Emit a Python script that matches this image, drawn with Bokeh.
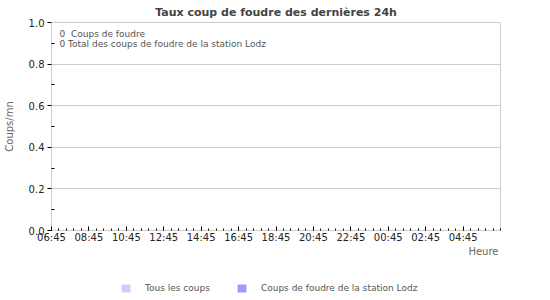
from bokeh.plotting import figure
from bokeh.layouts import column
from bokeh.models import (FixedTicker, Label, Legend, LegendItem, Range1d,
                          ColumnDataSource, Title)
from bokeh.embed import file_html
from bokeh.resources import INLINE

# ---------------- data ----------------
hour_labels = ["06:45", "08:45", "10:45", "12:45", "14:45", "16:45",
               "18:45", "20:45", "22:45", "00:45", "02:45", "04:45"]
hour_offsets = [0.5, 1.5, 2.5, 3.5, 4.5, 5.5, 6.5, 7.5, 8.5, 9.5, 10.5, 11.5,
                12.5, 13.5, 14.5, 15.5, 16.5, 17.5, 18.5, 19.5, 20.5, 21.5, 22.5, 23.5]
tous_les_coups = [0, 0, 0, 0, 0, 0, 0, 0, 0, 0, 0, 0,
                  0, 0, 0, 0, 0, 0, 0, 0, 0, 0, 0, 0]
coups_station = [0, 0, 0, 0, 0, 0, 0, 0, 0, 0, 0, 0,
                 0, 0, 0, 0, 0, 0, 0, 0, 0, 0, 0, 0]
total_coups = 0
total_station = 0
station = "Lodz"
series_names = ["Tous les coups", "Coups de foudre de la station Lodz"]
series_colors = ["#ccccff", "#9999ff"]

FONT = "DejaVu Sans"
NB = "\u00a0"

p = figure(width=550, height=265, output_backend="svg", toolbar_location=None,
           x_range=Range1d(0, 24), y_range=Range1d(0, 1),
           min_border_left=51, min_border_right=50, min_border_top=22,
           min_border_bottom=35)

p.title.text = "Taux coup de foudre des dernières 24h"
p.title.align = "center"
p.title.text_font = FONT
p.title.text_font_size = "11px"
p.title.text_color = "#444444"
p.title.text_font_style = "bold"
p.title.standoff = 7

src = ColumnDataSource(dict(x=hour_offsets, a=tous_les_coups, b=coups_station))
r1 = p.vbar(x="x", top="a", width=0.9, source=src, fill_color=series_colors[0], line_color=None)
r2 = p.vbar(x="x", top="b", width=0.9, source=src, fill_color=series_colors[1], line_color=None)

p.outline_line_color = "#cccccc"
p.xgrid.grid_line_color = None
p.ygrid.grid_line_color = "#cccccc"

xa = p.xaxis[0]
xa.ticker = FixedTicker(ticks=[2 * i for i in range(len(hour_labels))],
                        minor_ticks=[0.4 * i for i in range(61)])
xa.major_label_overrides = {2 * i: s for i, s in enumerate(hour_labels)}
xa.axis_line_color = None
xa.major_tick_in = 4
xa.major_tick_out = 0
xa.minor_tick_in = 2
xa.minor_tick_out = 0
xa.major_tick_line_color = "#000000"
xa.minor_tick_line_color = "#000000"
xa.major_label_text_font = FONT
xa.major_label_text_font_size = "10px"
xa.major_label_text_color = "#222222"
xa.major_label_standoff = 1

ya = p.yaxis[0]
yt = [0.0, 0.2, 0.4, 0.6, 0.8, 1.0]
ya.ticker = FixedTicker(ticks=yt, minor_ticks=[0.1, 0.3, 0.5, 0.7, 0.9])
ya.major_label_overrides = {v: f"{v:.1f}" for v in yt}
ya.axis_line_color = None
ya.major_tick_in = 0
ya.major_tick_out = 4
ya.minor_tick_in = 3
ya.minor_tick_out = 0
ya.major_tick_line_color = "#000000"
ya.minor_tick_line_color = "#000000"
ya.major_label_text_font = FONT
ya.major_label_text_font_size = "10px"
ya.major_label_text_color = "#222222"
ya.major_label_standoff = 3
ya.axis_label = "Coups/mn"
ya.axis_label_text_font = FONT
ya.axis_label_text_font_size = "10px"
ya.axis_label_text_font_style = "normal"
ya.axis_label_text_color = "#666666"
ya.axis_label_standoff = 11

p.add_layout(Label(x=0, y=1, text=f"{total_coups}{NB}{NB}Coups de foudre", text_align="left",
                   text_baseline="middle", x_offset=8, y_offset=-11, text_font=FONT,
                   text_font_size="9px", text_color="#555555"))
p.add_layout(Label(x=0, y=1, text=f"{total_station} Total des coups de foudre de la station {station}",
                   text_align="left", text_baseline="middle", x_offset=8, y_offset=-21,
                   text_font=FONT, text_font_size="9px", text_color="#555555"))

heure = Title(text="Heure", align="right", text_font=FONT, text_font_size="10px",
              text_color="#666666", text_font_style="normal", standoff=-4, offset=2)
p.add_layout(heure, "below")

# legend strip below the chart
p2 = figure(width=550, height=35, output_backend="svg", toolbar_location=None,
            x_range=Range1d(0, 24), y_range=Range1d(0, 1), min_border=0)
p2.axis.visible = False
p2.grid.visible = False
p2.outline_line_color = None
src2 = ColumnDataSource(dict(x=hour_offsets, a=tous_les_coups, b=coups_station))
q1 = p2.vbar(x="x", top="a", width=0.9, source=src2, fill_color=series_colors[0], line_color=None)
q2 = p2.vbar(x="x", top="b", width=0.9, source=src2, fill_color=series_colors[1], line_color=None)

legend = Legend(items=[LegendItem(label=series_names[0], renderers=[q1]),
                       LegendItem(label=series_names[1], renderers=[q2])],
                orientation="horizontal", location=(69, 7),
                border_line_color=None, background_fill_alpha=0,
                label_text_font=FONT, label_text_font_size="9px",
                label_text_color="#555555", glyph_width=11, glyph_height=10,
                label_standoff=14, spacing=26, padding=0, margin=0)
p2.add_layout(legend, "center")

open("out.html", "w").write(file_html(column(p, p2, spacing=0), INLINE))
